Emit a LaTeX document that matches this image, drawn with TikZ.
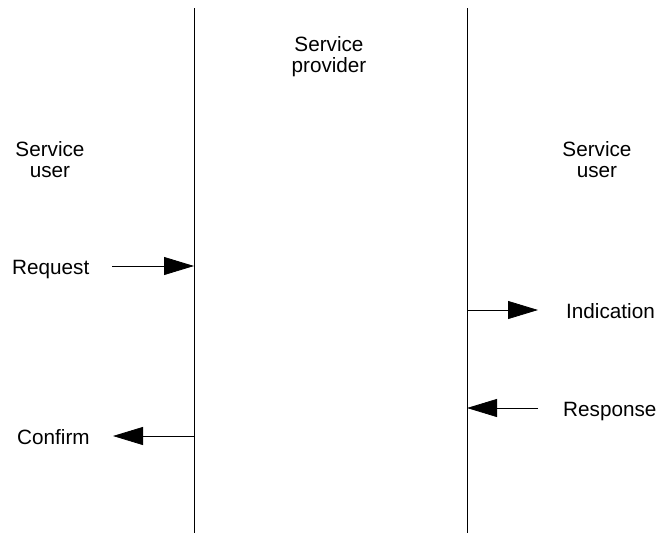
\documentclass[tikz,border=0pt]{standalone}
\usepackage{fontspec}
\setmainfont{Liberation Sans}
\usetikzlibrary{arrows.meta}
\begin{document}
\begin{tikzpicture}[x=1pt,y=-1pt,
  lbl/.style={inner sep=0pt,font=\fontsize{20.7}{21}\selectfont},
  life/.style={draw=black,line width=0.9pt},
  msg/.style={draw=black,line width=0.8pt,-{Triangle[length=30pt,width=18pt]}}]
\useasboundingbox (0,0) rectangle (656,533);
% lifelines
\coordinate (Ltop) at (194,8);
\coordinate (Lbot) at (194,533);
\coordinate (Rtop) at (467,8);
\coordinate (Rbot) at (467,533);
\draw[life] (Ltop) -- (Lbot);
\draw[life] (Rtop) -- (Rbot);
% labels
\node[lbl,align=center,anchor=base] (prov) at (329,72) {Service\\provider};
\node[lbl,align=center,anchor=base] (userL) at (50,177) {Service\\user};
\node[lbl,align=center,anchor=base] (userR) at (597,177) {Service\\user};
\node[lbl,anchor=base west] (req) at (12,274) {Request};
\node[lbl,anchor=base west] (ind) at (566,318) {Indication};
\node[lbl,anchor=base west] (resp) at (563,416) {Response};
\node[lbl,anchor=base west] (conf) at (17,444) {Confirm};
% messages
\coordinate (reqS) at (112,266);
\coordinate (reqE) at (194,266);
\coordinate (indS) at (467,310);
\coordinate (indE) at (538,310);
\coordinate (respS) at (538,408);
\coordinate (respE) at (467,408);
\coordinate (confS) at (194,436);
\coordinate (confE) at (113,436);
\draw[msg] (reqS) -- (reqE);
\draw[msg] (indS) -- (indE);
\draw[msg] (respS) -- (respE);
\draw[msg] (confS) -- (confE);
\end{tikzpicture}
\end{document}
